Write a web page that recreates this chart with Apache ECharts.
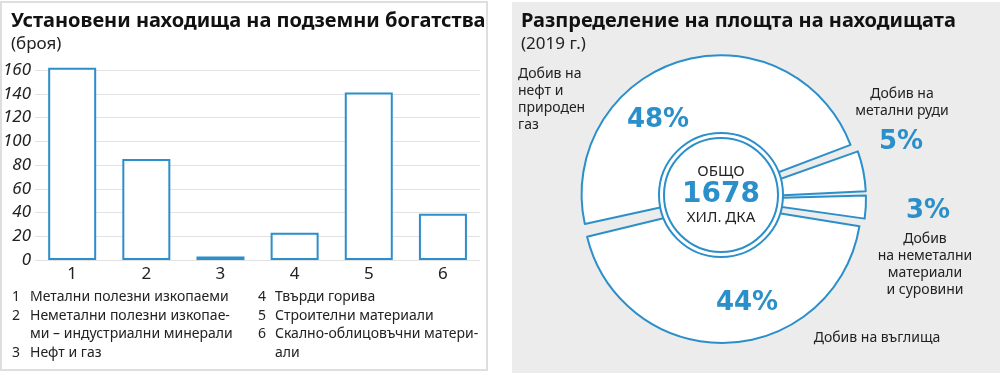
<!DOCTYPE html>
<html>
<head>
<meta charset="utf-8">
<script src="https://cdn.jsdelivr.net/npm/echarts@6/dist/echarts.min.js"></script>
<style>
html, body { margin: 0; padding: 0; background: #fff; }
#chart { width: 1000px; height: 375px; }
</style>
</head>
<body>
<div id="chart"></div>
<script>
// ляв график - брой находища
var categories = ['1', '2', '3', '4', '5', '6'];
var counts = [162, 85, 3, 23, 141, 39];
var catNotes = [
    ['Метални полезни изкопаеми'],
    ['Неметални полезни изкопае-', 'ми – индустриални минерали'],
    ['Нефт и газ'],
    ['Твърди горива'],
    ['Строителни материали'],
    ['Скално-облицовъчни матери-', 'али']
];

// десен график - площ (%)
var shareNames = ['Добив на\nнефт и\nприроден\nгаз', 'Добив на\nметални руди', 'Добив\nна неметални\nматериали\nи суровини', 'Добив на въглища'];
var shareValues = [48, 5, 3, 44];
var totalArea = 1678;

var blue = '#2b8fca';
var font = '"Noto Sans", "DejaVu Sans", sans-serif';

var myChart = echarts.init(document.getElementById('chart'));

// легенда под стълбовете
var notes = [];
var rowY = [297, 315.7, 334.4, 353];
var colX = [[12, 30], [258, 275]];
var row = [0, 0];
for (var i = 0; i < catNotes.length; i++) {
    var c = i < 3 ? 0 : 1;
    notes.push({
        type: 'text', z: 10,
        style: { text: categories[i], x: colX[c][0], y: rowY[row[c]], fill: '#222', font: '14px ' + font, verticalAlign: 'middle' }
    });
    for (var j = 0; j < catNotes[i].length; j++) {
        notes.push({
            type: 'text', z: 10,
            style: { text: catNotes[i][j], x: colX[c][1], y: rowY[row[c]], fill: '#222', font: '14px ' + font, verticalAlign: 'middle' }
        });
        row[c]++;
    }
}

var pctPos = [[658, 120], [901, 142], [928, 211], [747, 303]];
var namePos = [[518, 100, 'left'], [902, 103], [925, 265], [877, 338]];

var shareData = [];
var labelData = [];
for (var k = 0; k < shareValues.length; k++) {
    shareData.push({ name: shareNames[k], value: shareValues[k], selected: true });
    labelData.push({ name: shareNames[k], value: shareValues[k] });
}

var sliceStyle = { color: '#fff', borderColor: blue, borderWidth: 2 };
var pieCenter = [722, 199];

// прозрачен пай само за надписите
function labelPie(fmt, pos, labelStyle) {
    return {
        type: 'pie',
        z: 8,
        center: pieCenter,
        radius: [0, 139],
        startAngle: 193,
        silent: true,
        avoidLabelOverlap: false,
        data: labelData,
        itemStyle: { color: 'rgba(0,0,0,0)', borderWidth: 0 },
        emphasis: { disabled: true },
        label: Object.assign({ show: true, position: 'outside', formatter: fmt }, labelStyle),
        labelLine: { show: false },
        labelLayout: function (params) {
            var p = pos[params.dataIndex];
            return { x: p[0], y: p[1], align: p[2] || 'center', verticalAlign: 'middle' };
        }
    };
}

var option = {
    animation: false,
    textStyle: { fontFamily: font },
    title: [
        {
            text: 'Установени находища на подземни богатства',
            subtext: '(броя)',
            left: 6, top: 4, itemGap: 0,
            textStyle: { fontSize: 20, fontWeight: 'bold', color: '#111', lineHeight: 24 },
            subtextStyle: { fontSize: 17, color: '#222', lineHeight: 22 }
        },
        {
            text: 'Разпределение на площта на находищата',
            subtext: '(2019 г.)',
            left: 516, top: 4, itemGap: 0,
            textStyle: { fontSize: 20, fontWeight: 'bold', color: '#111', lineHeight: 24 },
            subtextStyle: { fontSize: 17, color: '#222', lineHeight: 22 }
        }
    ],
    graphic: {
        elements: [
            { type: 'rect', z: -1, shape: { x: 1, y: 2, width: 486, height: 368 }, style: { fill: '#fff', stroke: '#dedede', lineWidth: 2 } },
            { type: 'rect', z: -1, shape: { x: 512, y: 2, width: 488, height: 371 }, style: { fill: '#ececec' } }
        ].concat(notes)
    },
    grid: { left: 34, right: 520, top: 70, bottom: 115 },
    xAxis: {
        type: 'category',
        data: categories,
        axisLine: { show: false },
        axisTick: { show: false },
        axisLabel: { fontSize: 17, color: '#222', margin: 6 }
    },
    yAxis: {
        type: 'value',
        min: 0, max: 160, interval: 20,
        axisLabel: { fontSize: 17, fontStyle: 'italic', color: '#222', margin: 4 },
        splitLine: { lineStyle: { color: '#e2e2e2', width: 1 } }
    },
    series: [
        {
            type: 'bar',
            data: counts,
            barWidth: 48,
            clip: false,
            itemStyle: { color: '#fff', borderColor: blue, borderWidth: 2 },
            emphasis: { disabled: true }
        },
        {
            type: 'pie',
            center: pieCenter,
            radius: [0, 139],
            startAngle: 193,
            padAngle: 1.2,
            selectedMode: 'multiple',
            selectedOffset: 5,
            data: shareData,
            itemStyle: sliceStyle,
            select: { itemStyle: sliceStyle, label: { show: false } },
            emphasis: { disabled: true },
            label: { show: false },
            labelLine: { show: false }
        },
        labelPie('{d}%', pctPos, {
            fontFamily: '"DejaVu Sans", sans-serif',
            fontSize: 26, fontWeight: 'bold', color: blue
        }),
        labelPie('{b}', namePos, { fontSize: 14, lineHeight: 17, color: '#222' }),
        {
            type: 'pie',
            z: 5,
            center: [721, 195],
            radius: [0, 62],
            silent: true,
            data: [{ value: totalArea, name: 'ОБЩО' }],
            itemStyle: sliceStyle,
            emphasis: { disabled: true },
            label: { show: false },
            labelLine: { show: false }
        },
        {
            type: 'pie',
            z: 6,
            center: [721, 195],
            radius: [0, 57],
            silent: true,
            data: [{ value: totalArea, name: 'ОБЩО' }],
            itemStyle: sliceStyle,
            emphasis: { disabled: true },
            label: {
                show: true, position: 'center',
                formatter: '{a|ОБЩО}\n{b|{c}}\n{a|ХИЛ. ДКА}',
                rich: {
                    a: { fontSize: 15, color: '#222', lineHeight: 21 },
                    b: { fontSize: 28, fontWeight: 'bold', color: blue, fontFamily: '"DejaVu Sans", sans-serif', lineHeight: 25 }
                }
            },
            labelLine: { show: false }
        }
    ]
};

myChart.setOption(option);
</script>
</body>
</html>
